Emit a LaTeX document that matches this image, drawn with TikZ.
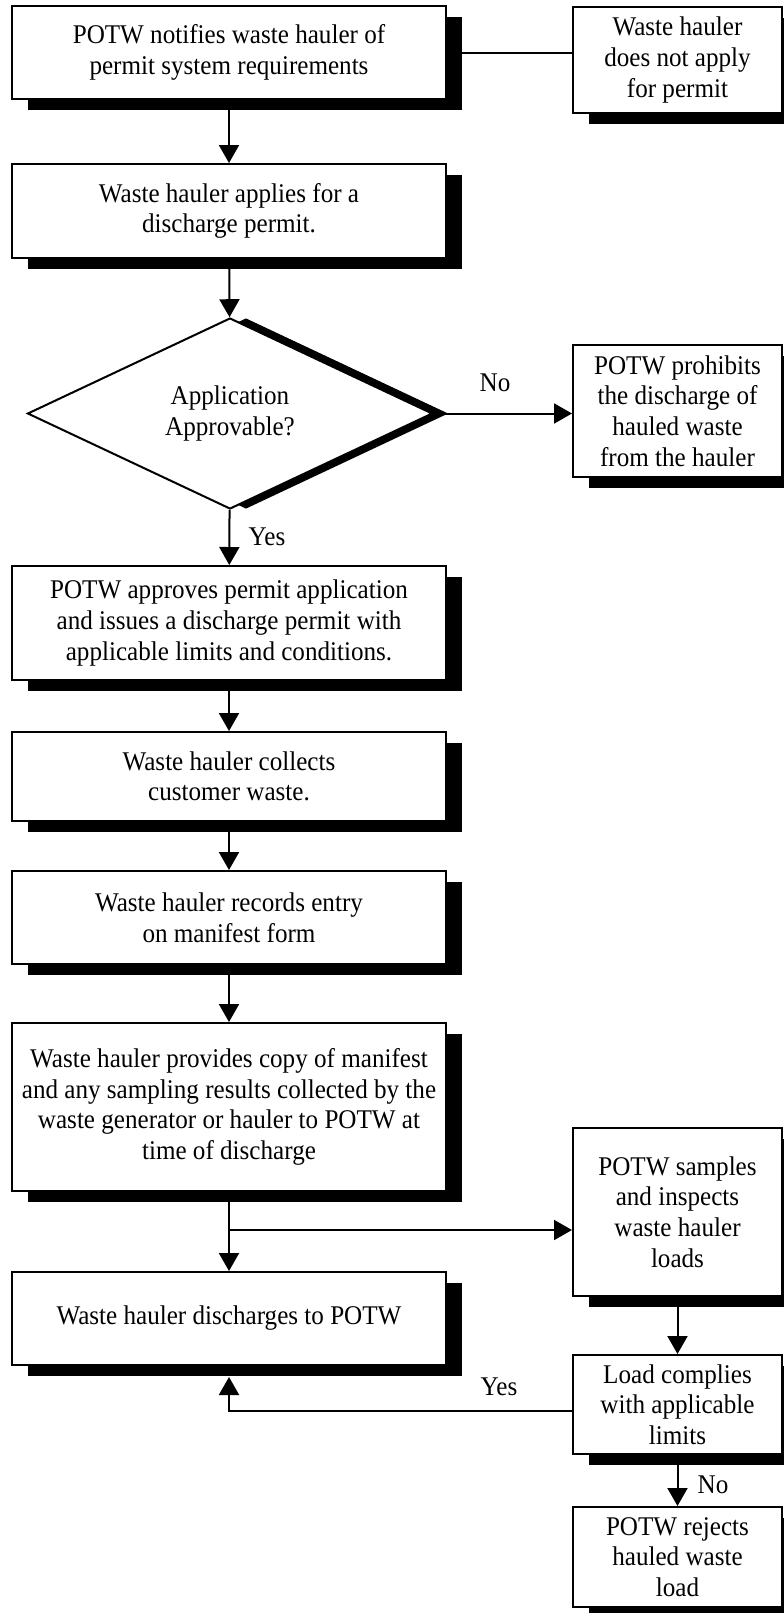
\documentclass[tikz,border=0pt]{standalone}
\usepackage{fontspec}
\setmainfont{Liberation Serif}[FakeStretch=0.93]
\usetikzlibrary{calc,shapes.geometric,shadows,arrows.meta}
\tikzset{%
  process/.style={rectangle,draw,fill=white,line width=1pt,align=center,
    inner sep=0pt,minimum width=217pt,
    drop shadow={shadow xshift=8pt,shadow yshift=-5.5pt,fill=black,opacity=1}},
  outcome/.style={process,minimum width=104.5pt},
  decision/.style={diamond,draw,fill=white,line width=1pt,align=center,
    inner sep=0pt,minimum width=202.5pt,minimum height=95.5pt,
    drop shadow={shadow xshift=8pt,shadow yshift=0pt,fill=black,opacity=1}},
  flow/.style={-{Triangle[length=9pt,width=10pt]},line width=1pt}
}

\begin{document}
\begin{tikzpicture}[x=0.5pt,y=-0.5pt,font=\fontsize{13.5}{15.3}\selectfont]
  \useasboundingbox (0,0) rectangle (783,1613);

  \node [process,minimum height=46.5pt] (notify)     at (229,52.5)   {POTW notifies waste hauler of\\permit system requirements};
  \node [outcome,minimum height=53pt]   (nohaul)     at (677.5,60)   {Waste hauler\\does not apply\\for permit};
  \node [process,minimum height=47pt]   (apply)      at (229,211)    {Waste hauler applies for a\\discharge permit.};
  \node [decision]                      (approvable) at (230,413.5)  {Application\\Approvable?};
  \node [outcome,minimum height=66pt]   (prohibit)   at (677.5,411)  {POTW prohibits\\the discharge of\\hauled waste\\from the hauler};
  \node [process,minimum height=57pt]   (approve)    at (229,623)    {POTW approves permit application\\and issues a discharge permit with\\applicable limits and conditions.};
  \node [process,minimum height=44.5pt] (collect)    at (229,776.5)  {Waste hauler collects\\customer waste.};
  \node [process,minimum height=46.5pt] (record)     at (229,917.5)  {Waste hauler records entry\\on manifest form};
  \node [process,minimum height=84pt]   (provide)    at (229,1107)   {Waste hauler provides copy of manifest\\and any sampling results collected by the\\waste generator or hauler to POTW at\\time of discharge};
  \node [outcome,minimum height=84pt]   (samples)    at (677.5,1212) {POTW samples\\and inspects\\waste hauler\\loads};
  \node [process,minimum height=46.5pt] (discharge)  at (229,1318.5) {Waste hauler discharges to POTW};
  \node [outcome,minimum height=49.5pt] (load)       at (677.5,1404.5) {Load complies\\with applicable\\limits};
  \node [outcome,minimum height=50pt]   (reject)     at (677.5,1557) {POTW rejects\\hauled waste\\load};

  \node (no1)  at (495,383)  {No};
  \node (yes1) at (267,537)  {Yes};
  \node (yes2) at (499,1387) {Yes};
  \node (no2)  at (713,1485) {No};

  \coordinate (split) at (229,1230);

  \draw [line width=1pt] (notify.east) -- (notify.east -| nohaul.west);
  \draw [flow] (notify) -- (apply);
  \draw [flow] (apply) -- (approvable);
  \draw [flow] (approvable.east) -- (approvable.east -| prohibit.west);
  \draw [flow] (approvable) -- (approve);
  \draw [flow] (approve) -- (collect);
  \draw [flow] (collect) -- (record);
  \draw [flow] (record) -- (provide);
  \draw [flow] (provide) -- (discharge);
  \draw [flow] (split) -- (split -| samples.west);
  \draw [flow] (samples) -- (load);
  \draw [flow] (load) -- (reject);
  \draw [flow,shorten >=5.5pt] ($(load.west)+(0,6)$) -| (discharge.south);
\end{tikzpicture}
\end{document}
